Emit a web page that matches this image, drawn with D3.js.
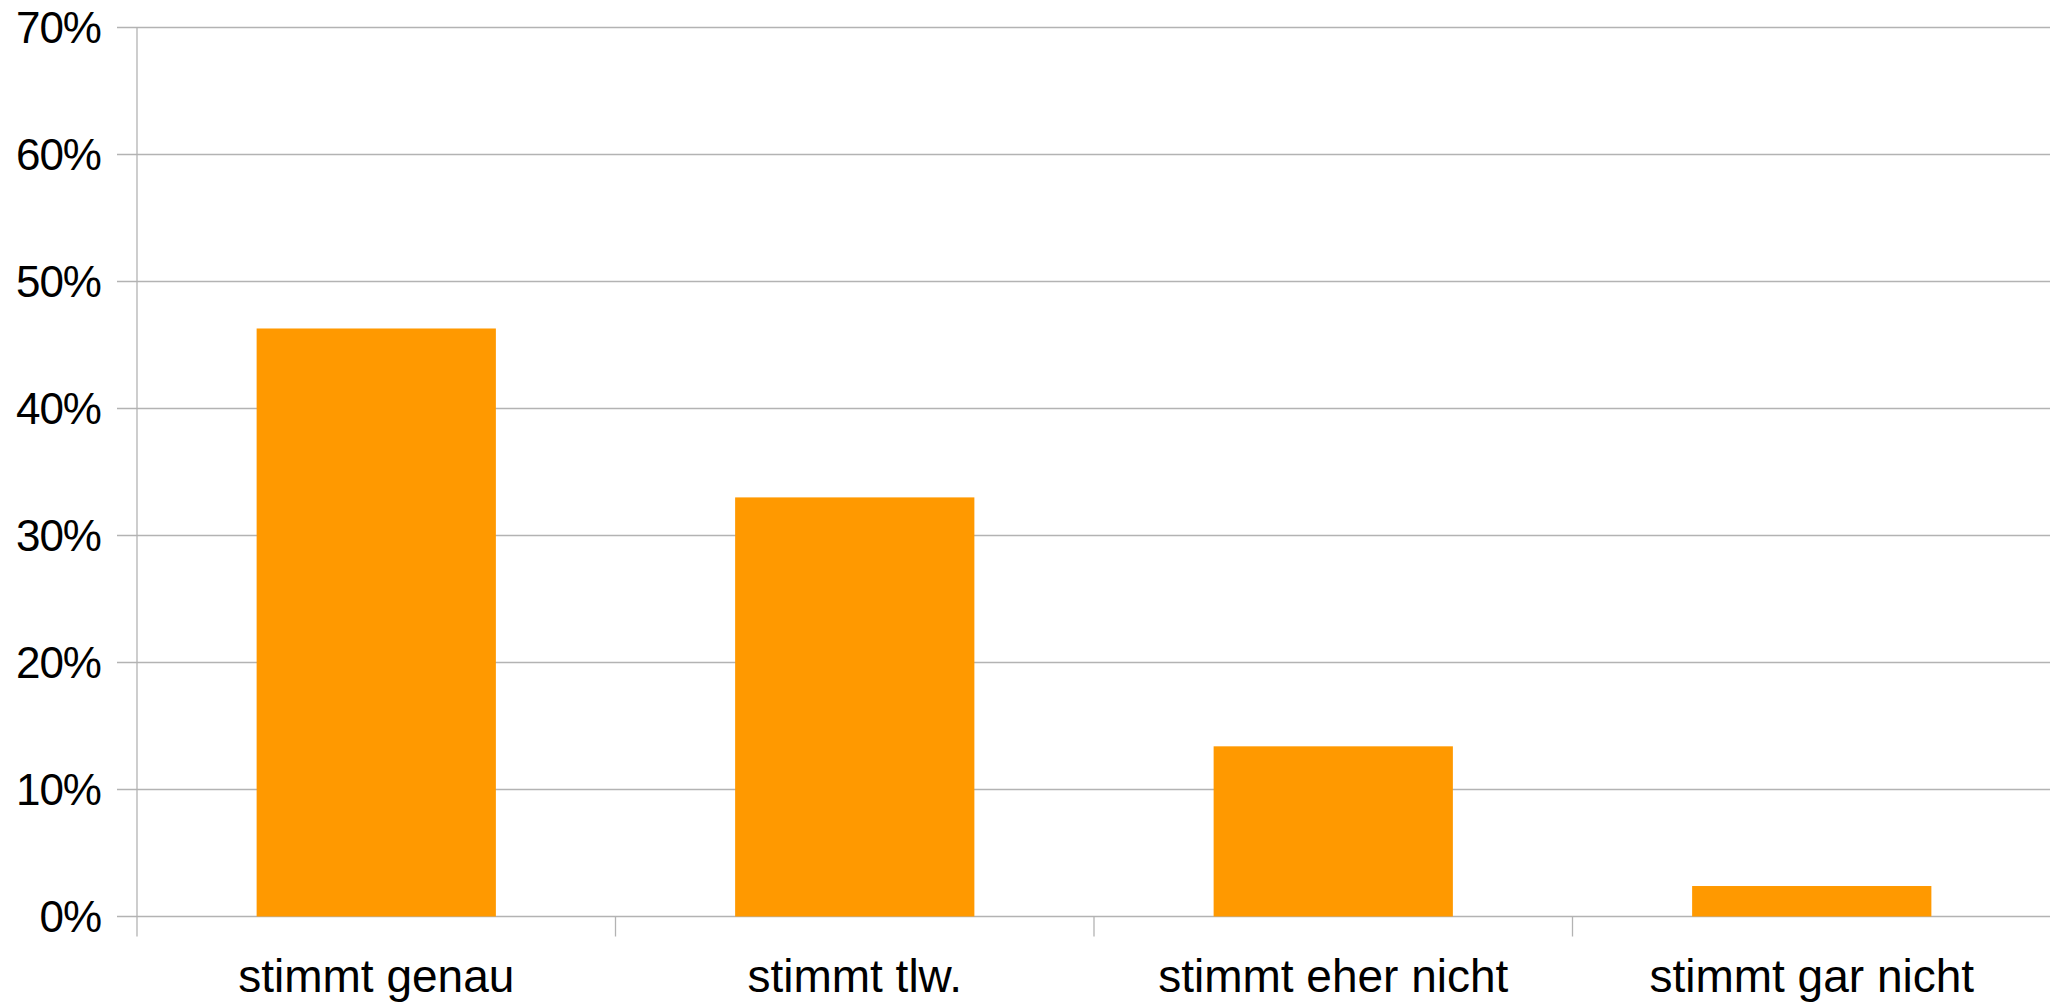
<!DOCTYPE html>
<html>
<head>
<meta charset="utf-8">
<script src="https://cdn.jsdelivr.net/npm/d3@7"></script>
<style>
  html, body { margin: 0; padding: 0; background: #fff; }
  svg { display: block; }
  text { font-family: "Liberation Sans", Arial, sans-serif; fill: #000; }
</style>
</head>
<body>
<svg id="chart" width="2050" height="1004"></svg>
<script>
const categories = ["stimmt genau", "stimmt tlw.", "stimmt eher nicht", "stimmt gar nicht"];
const values = [0.463, 0.330, 0.134, 0.024];
const yTicks = [0, 0.1, 0.2, 0.3, 0.4, 0.5, 0.6, 0.7];
const yTickLabels = ["0%", "10%", "20%", "30%", "40%", "50%", "60%", "70%"];

(function () {
const svg = d3.select("#chart");
const pLeft = 137, pRight = 2051, pTop = 27.5, pBottom = 916.5;
const gridColor = "#b3b3b3";

const x = d3.scaleBand().domain(categories).range([pLeft, pRight]).paddingInner(0.5).paddingOuter(0.25);
const xOuter = d3.scaleBand().domain(categories).range([pLeft, pRight]).padding(0);
const y = d3.scaleLinear().domain([0, 0.7]).range([pBottom, pTop]);

// gridlines
svg.append("g").selectAll("line").data(yTicks).join("line")
  .attr("x1", pLeft - 20).attr("x2", pRight)
  .attr("y1", d => y(d)).attr("y2", d => y(d))
  .attr("stroke", gridColor).attr("stroke-width", 1.3);

// y axis line
svg.append("line").attr("x1", pLeft).attr("x2", pLeft)
  .attr("y1", pTop).attr("y2", pBottom + 20)
  .attr("stroke", gridColor).attr("stroke-width", 1.3);

// x category ticks
svg.append("g").selectAll("line").data(categories.slice(1)).join("line")
  .attr("x1", d => xOuter(d)).attr("x2", d => xOuter(d))
  .attr("y1", pBottom).attr("y2", pBottom + 20)
  .attr("stroke", gridColor).attr("stroke-width", 1.3);

// bars
svg.append("g").selectAll("rect").data(values).join("rect")
  .attr("x", (d, i) => x(categories[i]))
  .attr("width", x.bandwidth())
  .attr("y", d => y(d))
  .attr("height", d => y(0) - y(d))
  .attr("fill", "#ff9900");

// y labels
svg.append("g").selectAll("text").data(yTicks).join("text")
  .attr("x", 101).attr("y", d => y(d) + 15.8)
  .attr("text-anchor", "end")
  .attr("font-size", 44)
  .attr("letter-spacing", -1)
  .text((d, i) => yTickLabels[i]);

// x labels
svg.append("g").selectAll("text").data(categories).join("text")
  .attr("x", d => xOuter(d) + xOuter.bandwidth() / 2)
  .attr("y", 992)
  .attr("text-anchor", "middle")
  .attr("font-size", 46)
  .text(d => d);
})();
</script>
</body>
</html>
